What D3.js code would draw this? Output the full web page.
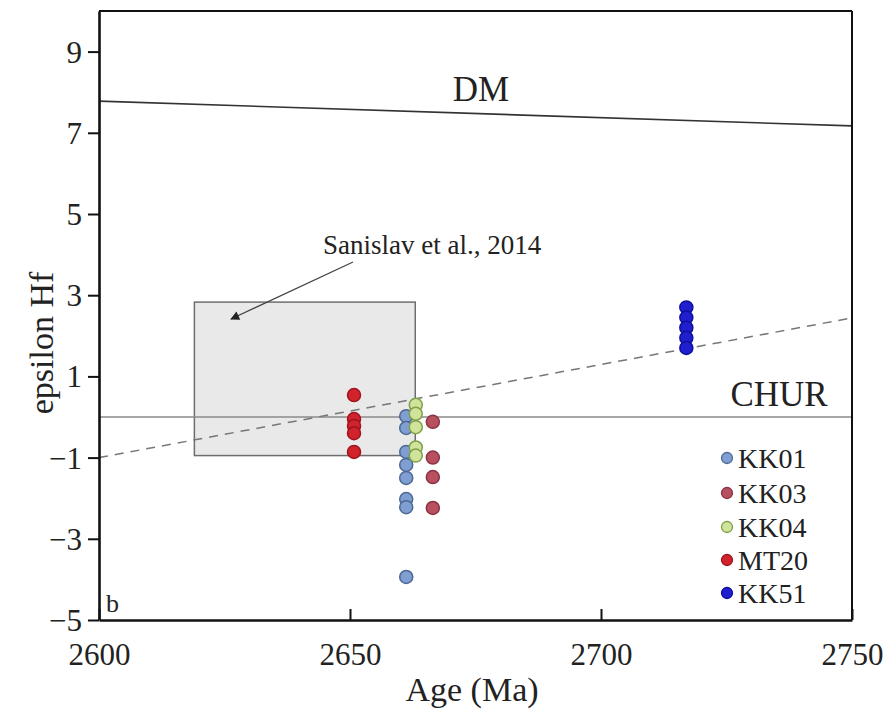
<!DOCTYPE html>
<html>
<head>
<meta charset="utf-8">
<script src="https://cdn.jsdelivr.net/npm/d3@7"></script>
<style>
  html, body { margin: 0; padding: 0; background: #fff; }
  svg { display: block; }
  text { font-family: "Liberation Serif", "Times New Roman", serif; fill: #222; }
</style>
</head>
<body>
<svg id="chart" width="888" height="714"></svg>
<script>
// Axis settings
const xDomain = [2600, 2750];
const yDomain = [-5, 10];
const xTicks = [2600, 2650, 2700, 2750];
const yTicks = [-5, -3, -1, 1, 3, 5, 7, 9];

// Reference evolution lines (age, epsilon Hf)
const dmLine = [[2600, 7.78], [2750, 7.17]];
const churLine = [[2600, 0], [2750, 0]];
const trendLine = [[2600, -1.0], [2750, 2.44]];

// Literature field (Sanislav et al., 2014)
const fieldAge = [2619, 2663];
const fieldHf = [-0.95, 2.83];

// Zircon analyses per sample: age (Ma) and epsilon Hf values
const samples = ["KK01", "KK03", "KK04", "MT20", "KK51"];
const sampleAge = { KK01: 2661.2, KK03: 2666.5, KK04: 2663.1, MT20: 2650.8, KK51: 2717 };
const kk01 = [0.02, -0.27, -0.86, -1.18, -1.5, -2.02, -2.22, -3.94];
const kk03 = [-0.12, -1.0, -1.48, -2.24];
const kk04 = [0.3, 0.08, -0.25, -0.75, -0.95];
const mt20 = [0.54, -0.05, -0.22, -0.4, -0.86];
const kk51 = [2.7, 2.45, 2.2, 1.95, 1.7];
const sampleValues = { KK01: kk01, KK03: kk03, KK04: kk04, MT20: mt20, KK51: kk51 };

const fillColor = { KK01: "#7f9fd2", KK03: "#b8505f", KK04: "#cfe39a", MT20: "#d0232c", KK51: "#1f1fd0" };
const strokeColor = { KK01: "#4d6894", KK03: "#8a3344", KK04: "#7fa048", MT20: "#a0141c", KK51: "#10109a" };

const svg = d3.select("#chart");
const x = d3.scaleLinear().domain(xDomain).range([99, 852]);
const y = d3.scaleLinear().domain(yDomain).range([620, 11]);

const line = d3.line().x(d => x(d[0])).y(d => y(d[1]));

// Sanislav field
svg.append("rect")
  .attr("x", x(fieldAge[0])).attr("y", y(fieldHf[1]))
  .attr("width", x(fieldAge[1]) - x(fieldAge[0]))
  .attr("height", y(fieldHf[0]) - y(fieldHf[1]))
  .attr("fill", "#e9e9e9").attr("stroke", "#6e6e6e").attr("stroke-width", 1.5);

// CHUR and DM
svg.append("path").datum(churLine).attr("d", line)
  .attr("stroke", "#8a8a8a").attr("stroke-width", 1.6).attr("fill", "none");
svg.append("path").datum(dmLine).attr("d", line)
  .attr("stroke", "#333").attr("stroke-width", 1.6).attr("fill", "none");
// crustal trend
svg.append("path").datum(trendLine).attr("d", line)
  .attr("stroke", "#777").attr("stroke-width", 1.5).attr("stroke-dasharray", "9,7").attr("fill", "none");

// Arrow to the field
const defs = svg.append("defs");
defs.append("marker").attr("id", "arrow").attr("viewBox", "0 0 10 10")
  .attr("refX", 9).attr("refY", 5).attr("markerWidth", 11).attr("markerHeight", 9)
  .attr("markerUnits", "userSpaceOnUse").attr("orient", "auto")
  .append("path").attr("d", "M0,0 L10,5 L0,10 Z").attr("fill", "#222");
svg.append("line")
  .attr("x1", 353).attr("y1", 262).attr("x2", 231).attr("y2", 319)
  .attr("stroke", "#444").attr("stroke-width", 1.3).attr("marker-end", "url(#arrow)");
svg.append("text").attr("x", 323).attr("y", 254).attr("font-size", 27).text("Sanislav et al., 2014");

// Data points
samples.forEach(s => {
  svg.append("g").selectAll("circle").data(sampleValues[s]).join("circle")
    .attr("cx", x(sampleAge[s])).attr("cy", d => y(d)).attr("r", 6.5)
    .attr("fill", fillColor[s]).attr("stroke", strokeColor[s]).attr("stroke-width", 1.5);
});

// Frame
svg.append("line").attr("x1", x(2600)).attr("x2", x(2750)).attr("y1", y(10)).attr("y2", y(10))
  .attr("stroke", "#111").attr("stroke-width", 2);
svg.append("line").attr("x1", x(2750)).attr("x2", x(2750)).attr("y1", y(10)).attr("y2", y(-5))
  .attr("stroke", "#111").attr("stroke-width", 2);

// Axes
const yAxis = d3.axisLeft(y).tickValues(yTicks).tickSize(11).tickPadding(6).tickSizeOuter(0);
const gy = svg.append("g").attr("transform", `translate(${x(2600)},0)`).call(yAxis);
gy.select(".domain").attr("stroke", "#111").attr("stroke-width", 2.6);
gy.selectAll(".tick line").attr("stroke", "#111").attr("stroke-width", 2);
gy.selectAll(".tick text").attr("font-size", 31).attr("font-family", "Liberation Serif").attr("fill", "#222")
  .attr("dy", "0.34em");

const xAxis = d3.axisBottom(x).tickValues(xTicks).tickSize(-11).tickPadding(23).tickSizeOuter(0)
  .tickFormat(d3.format("d"));
const gx = svg.append("g").attr("transform", `translate(0,${y(-5)})`).call(xAxis);
gx.select(".domain").attr("stroke", "#111").attr("stroke-width", 2.6);
gx.selectAll(".tick line").attr("stroke", "#111").attr("stroke-width", 2);
gx.selectAll(".tick text").attr("font-size", 31).attr("font-family", "Liberation Serif").attr("fill", "#222");

// Axis titles
svg.append("text").attr("x", 472).attr("y", 701).attr("text-anchor", "middle")
  .attr("font-size", 34).text("Age (Ma)");
svg.append("text").attr("transform", "translate(53,343) rotate(-90)").attr("text-anchor", "middle")
  .attr("font-size", 34).text("epsilon Hf");

// Line labels
svg.append("text").attr("x", 481).attr("y", 101).attr("text-anchor", "middle").attr("font-size", 35).text("DM");
svg.append("text").attr("x", 779).attr("y", 406).attr("text-anchor", "middle").attr("font-size", 35).text("CHUR");

// Panel label
svg.append("text").attr("x", 106).attr("y", 612).attr("font-size", 26).text("b");

// Legend
const legendY = [458, 493, 527, 560, 593];
const lg = svg.append("g").selectAll("g").data(samples).join("g")
  .attr("transform", (d, i) => `translate(727,${legendY[i]})`);
lg.append("circle").attr("r", 5.5).attr("fill", d => fillColor[d]).attr("stroke", d => strokeColor[d]).attr("stroke-width", 1.3);
lg.append("text").attr("x", 11).attr("y", 10).attr("font-size", 28).text(d => d);
</script>
</body>
</html>
